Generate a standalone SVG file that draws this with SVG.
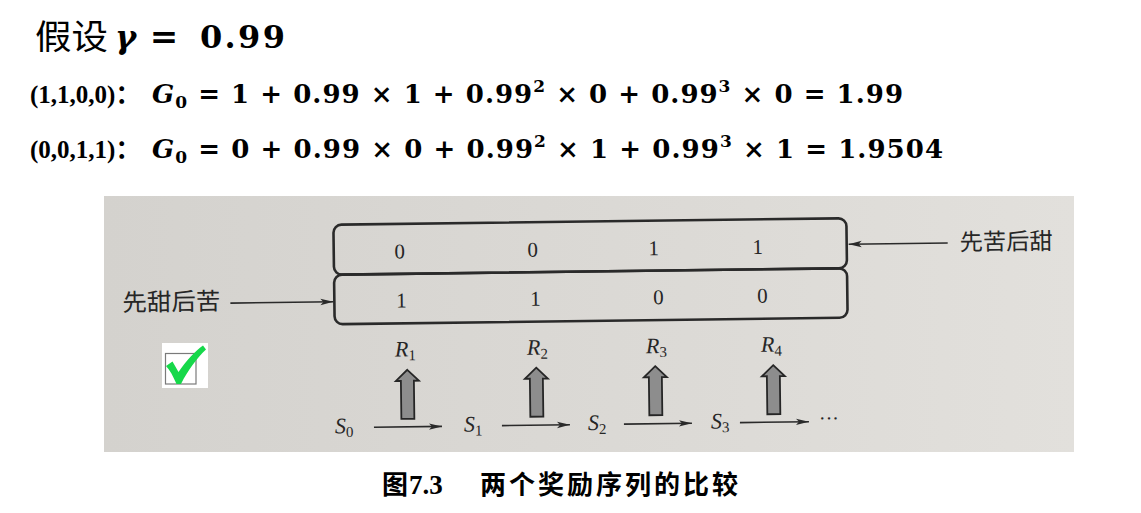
<svg xmlns="http://www.w3.org/2000/svg" width="1141" height="513" viewBox="0 0 1141 513">
  <style>
    .cjk { font-family: "Noto Sans CJK SC", sans-serif; fill: #000; }
    .m { font-family: "DejaVu Serif", serif; font-weight: bold; fill: #000; }
    .tb { font-family: "Liberation Serif", serif; font-weight: bold; fill: #000; }
    .ph { font-family: "Liberation Serif", serif; fill: #262626; }
    .phc { font-family: "Noto Sans CJK SC", sans-serif; fill: #262626; }
    .box { fill: none; stroke: #2a2a2a; stroke-width: 2.6; }
    .ln { stroke: #2a2a2a; stroke-width: 1.6; fill: none; }
    .up { fill: #8d8d8d; stroke: #262626; stroke-width: 1.8; stroke-linejoin: miter; }
  </style>
  <defs>
    <linearGradient id="bg" x1="0" y1="0" x2="1" y2="0">
      <stop offset="0" stop-color="#d4d2ce"/>
      <stop offset="0.6" stop-color="#dcdad6"/>
      <stop offset="1" stop-color="#e2e0dc"/>
    </linearGradient>
    <marker id="ah" markerWidth="14" markerHeight="8" refX="13" refY="4" orient="auto" markerUnits="userSpaceOnUse">
      <path d="M0,0.8 L13,4 L0,7.2 L3,4 Z" fill="#2a2a2a"/>
    </marker>
    <path id="uparrow" class="up" d="M0,0 L11.5,11 L6.5,11 L6.5,49 L-6.5,49 L-6.5,11 L-11.5,11 Z"/>
  </defs>

  <rect width="1141" height="513" fill="#fff"/>

  <!-- header text -->
  <g id="title">
    <text class="cjk" x="35" y="49" font-size="34" textLength="73" lengthAdjust="spacingAndGlyphs">假设</text>
    <text class="m" x="115" y="48" font-size="32" font-style="italic">γ</text>
    <text class="m" x="164" y="48" font-size="34" text-anchor="middle">=</text>
    <text class="m" x="200" y="48" font-size="32" textLength="85" lengthAdjust="spacing">0.99</text>
  </g>
  <g id="eq1">
    <text class="tb" x="30" y="103" font-size="25">(1,1,0,0)<tspan class="cjk" font-weight="bold">：</tspan></text>
    <text class="m" x="152" y="103" font-size="26" textLength="751" lengthAdjust="spacing"><tspan font-style="italic">G</tspan><tspan font-size="17" dy="5">0</tspan><tspan dy="-5"> = 1 + 0.99 × 1 + 0.99</tspan><tspan font-size="17" dy="-11">2</tspan><tspan dy="11"> × 0 + 0.99</tspan><tspan font-size="17" dy="-11">3</tspan><tspan dy="11"> × 0 = 1.99</tspan></text>
  </g>
  <g id="eq2">
    <text class="tb" x="30" y="158" font-size="25">(0,0,1,1)<tspan class="cjk" font-weight="bold">：</tspan></text>
    <text class="m" x="152" y="158" font-size="26" textLength="791" lengthAdjust="spacing"><tspan font-style="italic">G</tspan><tspan font-size="17" dy="5">0</tspan><tspan dy="-5"> = 0 + 0.99 × 0 + 0.99</tspan><tspan font-size="17" dy="-11">2</tspan><tspan dy="11"> × 1 + 0.99</tspan><tspan font-size="17" dy="-11">3</tspan><tspan dy="11"> × 1 = 1.9504</tspan></text>
  </g>

  <!-- photo -->
  <rect x="104" y="196" width="970" height="256" fill="url(#bg)"/>

  <g transform="rotate(-0.73 590 271)">
    <g id="seq-bitter-first">
      <rect class="box" x="334" y="221.5" width="513" height="50" rx="8"/>
      <text class="ph" font-size="21" y="256" text-anchor="middle"><tspan x="400">0</tspan><tspan x="533">0</tspan><tspan x="654">1</tspan><tspan x="758">1</tspan></text>
    </g>
    <g id="seq-sweet-first">
      <rect class="box" x="334" y="271.5" width="513" height="49.5" rx="8"/>
      <text class="ph" font-size="21" y="305" text-anchor="middle"><tspan x="401">1</tspan><tspan x="535">1</tspan><tspan x="658">0</tspan><tspan x="762">0</tspan></text>
    </g>
    <g id="label-sweet-first">
      <text class="phc" x="122" y="305" font-size="24" textLength="98" lengthAdjust="spacingAndGlyphs">先甜后苦</text>
    </g>
    <g id="label-bitter-first">
      <text class="phc" x="960" y="255" font-size="23" textLength="93" lengthAdjust="spacingAndGlyphs">先苦后甜</text>
    </g>

    <g id="rewards">
      <text class="ph" font-size="22" y="354"><tspan x="394" font-style="italic">R</tspan><tspan font-size="15" dy="4">1</tspan></text>
      <text class="ph" font-size="22" y="354"><tspan x="526" font-style="italic">R</tspan><tspan font-size="15" dy="4">2</tspan></text>
      <text class="ph" font-size="22" y="354"><tspan x="645" font-style="italic">R</tspan><tspan font-size="15" dy="4">3</tspan></text>
      <text class="ph" font-size="22" y="354"><tspan x="760" font-style="italic">R</tspan><tspan font-size="15" dy="4">4</tspan></text>
    </g>
    <g id="states">
      <text class="ph" font-size="22" y="430"><tspan x="333" font-style="italic">S</tspan><tspan font-size="15" dy="4">0</tspan></text>
      <text class="ph" font-size="22" y="430"><tspan x="462" font-style="italic">S</tspan><tspan font-size="15" dy="4">1</tspan></text>
      <text class="ph" font-size="22" y="430"><tspan x="586" font-style="italic">S</tspan><tspan font-size="15" dy="4">2</tspan></text>
      <text class="ph" font-size="22" y="430"><tspan x="709" font-style="italic">S</tspan><tspan font-size="15" dy="4">3</tspan></text>
      <text class="ph" font-size="20" x="817" y="428">···</text>
    </g>

    <g id="connectors">
      <line class="ln" x1="230" y1="298.5" x2="333" y2="298.5" marker-end="url(#ah)"/>
      <line class="ln" x1="948" y1="247.5" x2="849" y2="247.5" marker-end="url(#ah)"/>
      <line class="ln" x1="372" y1="424.5" x2="440" y2="424.5" marker-end="url(#ah)"/>
      <line class="ln" x1="500" y1="424.5" x2="568" y2="424.5" marker-end="url(#ah)"/>
      <line class="ln" x1="622" y1="424.5" x2="690" y2="424.5" marker-end="url(#ah)"/>
      <line class="ln" x1="738" y1="424.5" x2="807" y2="424.5" marker-end="url(#ah)"/>
      <use href="#uparrow" x="406" y="367.5"/>
      <use href="#uparrow" x="535" y="367"/>
      <use href="#uparrow" x="654" y="367"/>
      <use href="#uparrow" x="772" y="367.5"/>
    </g>
  </g>

  <g id="checkmark">
    <rect x="162" y="343" width="46" height="45" fill="#fff"/>
    <rect x="165.5" y="353.5" width="30.5" height="30.5" fill="none" stroke="#7a7a7a" stroke-width="1.2"/>
    <path d="M166,366 L172.5,361.5 L178.5,372 C186,361 195,351 203,345.5 L206,349.5 C197,358 188,370 181,384 L176.5,384 C173,376 170,370 166,366 Z" fill="#16d84a"/>
  </g>

  <g id="caption">
    <text class="cjk" x="382" y="494" font-size="26" font-weight="bold">图</text>
    <text class="tb" x="409" y="494" font-size="27">7.3</text>
    <text class="cjk" x="480" y="494" font-size="26" font-weight="bold" textLength="258" lengthAdjust="spacing">两个奖励序列的比较</text>
  </g>
</svg>
